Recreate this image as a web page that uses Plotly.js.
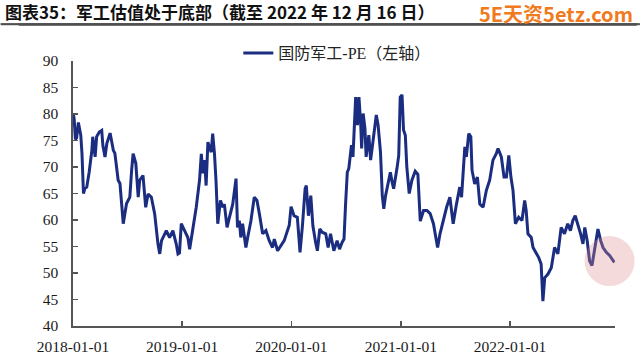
<!DOCTYPE html>
<html>
<head>
<meta charset="utf-8">
<script src="https://cdn.plot.ly/plotly-3.0.1.min.js"></script>
<style>
  html, body { margin: 0; padding: 0; background: #ffffff; }
  #chart { width: 640px; height: 362px; }
</style>
</head>
<body>
<div id="chart"></div>
<script>
// ---- Data ----
const seriesName = "国防军工-PE（左轴）";
const dates = [
"2018-01-02","2018-01-05","2018-01-09","2018-01-13","2018-01-19","2018-01-23","2018-01-27","2018-01-31",
"2018-02-05","2018-02-10","2018-02-16","2018-02-24","2018-03-05","2018-03-08","2018-03-16","2018-03-21",
"2018-03-30","2018-04-07","2018-04-11","2018-04-18","2018-04-24","2018-05-05","2018-05-16","2018-05-21",
"2018-06-01","2018-06-07","2018-06-18","2018-06-29","2018-07-10","2018-07-16","2018-07-21","2018-07-30",
"2018-08-07","2018-08-12","2018-08-23","2018-09-01","2018-09-09","2018-09-20","2018-10-01","2018-10-12",
"2018-10-18","2018-10-24","2018-11-09","2018-11-20","2018-12-01","2018-12-12","2018-12-18","2018-12-23",
"2018-12-29","2019-01-09","2019-01-20","2019-01-26","2019-02-06","2019-02-17","2019-02-28","2019-03-06",
"2019-03-11","2019-03-17","2019-03-22","2019-03-28","2019-04-02","2019-04-08","2019-04-13","2019-04-19",
"2019-04-24","2019-04-30","2019-05-09","2019-05-17","2019-05-22","2019-05-31","2019-06-08","2019-06-19",
"2019-06-30","2019-07-05","2019-07-11","2019-07-16","2019-07-22","2019-08-02","2019-08-08","2019-08-19",
"2019-08-30","2019-09-08","2019-09-16","2019-09-27","2019-10-08","2019-10-19","2019-10-30","2019-11-05",
"2019-11-16","2019-11-27","2019-12-08","2019-12-19","2019-12-25","2019-12-31","2020-01-10","2020-01-21",
"2020-01-30","2020-02-07","2020-02-16","2020-02-20","2020-02-27","2020-03-06","2020-03-13","2020-03-22",
"2020-03-28","2020-04-05","2020-04-13","2020-04-25","2020-05-03","2020-05-11","2020-05-22","2020-06-02",
"2020-06-10","2020-06-19","2020-06-25","2020-06-30","2020-07-06","2020-07-11","2020-07-17","2020-07-20",
"2020-07-25","2020-07-30","2020-08-03","2020-08-09","2020-08-14","2020-08-20","2020-08-23","2020-08-28",
"2020-09-03","2020-09-07","2020-09-16","2020-09-22","2020-09-30","2020-10-06","2020-10-11","2020-10-17",
"2020-10-25","2020-10-31","2020-11-05","2020-11-11","2020-11-19","2020-11-27","2020-12-03","2020-12-08",
"2020-12-19","2020-12-25","2020-12-30","2021-01-05","2021-01-10","2021-01-16","2021-01-21","2021-01-29",
"2021-02-07","2021-02-18","2021-02-27","2021-03-07","2021-03-18","2021-03-29","2021-04-09","2021-04-20",
"2021-04-28","2021-05-04","2021-05-12","2021-05-23","2021-06-03","2021-06-14","2021-06-25","2021-07-06",
"2021-07-17","2021-07-23","2021-07-28","2021-08-03","2021-08-08","2021-08-16","2021-08-23","2021-08-27",
"2021-09-05","2021-09-14","2021-09-22","2021-10-03","2021-10-14","2021-10-25","2021-11-05","2021-11-16",
"2021-11-22","2021-12-03","2021-12-12","2021-12-20","2021-12-28","2022-01-04","2022-01-11","2022-01-19",
"2022-01-30","2022-02-10","2022-02-19","2022-02-24","2022-03-02","2022-03-13","2022-03-19","2022-03-30",
"2022-04-07","2022-04-15","2022-04-21","2022-04-27","2022-05-08","2022-05-19","2022-05-30","2022-06-10",
"2022-06-21","2022-07-02","2022-07-13","2022-07-22","2022-07-30","2022-08-07","2022-08-16","2022-08-25",
"2022-09-02","2022-09-08","2022-09-16","2022-09-24","2022-10-02","2022-10-11","2022-10-22","2022-10-31",
"2022-11-08","2022-11-19","2022-11-30","2022-12-16"
];
const peValues = [
80.1,79.0,75.2,75.5,78.4,77.0,76.0,72.6,
65.0,66.0,66.2,69.0,73.1,75.7,71.9,75.7,
76.6,76.9,74.0,71.9,74.4,76.4,73.1,72.6,
67.5,66.9,59.3,63.1,64.3,69.4,72.5,70.7,
64.3,67.5,68.4,62.4,64.9,64.3,61.2,55.5,
53.6,56.1,58.0,56.7,58.0,55.5,53.6,53.8,
59.3,58.0,56.7,54.5,58.6,62.4,67.5,72.5,
68.8,71.3,66.5,74.7,73.8,72.8,76.3,72.5,
67.5,59.3,63.7,62.4,63.0,58.6,60.5,63.0,
67.8,58.6,59.9,56.7,59.3,54.8,56.7,59.9,
64.3,63.7,61.2,57.4,58.0,56.1,54.8,56.4,
54.2,55.2,56.1,58.0,59.0,62.5,60.8,60.5,
53.9,58.9,65.9,66.5,60.8,64.6,58.9,55.8,
54.2,58.3,57.7,57.4,54.8,57.4,54.2,56.1,
54.5,55.8,56.4,62.7,69.0,69.7,72.2,74.1,
71.9,77.9,83.2,77.9,83.2,77.9,73.5,80.1,
77.3,71.9,76.0,71.3,75.4,77.3,79.8,77.9,
72.8,64.6,62.1,64.6,66.5,69.0,67.1,65.9,
69.7,72.2,83.2,83.6,77.0,76.0,70.0,65.0,
67.5,69.2,68.6,59.8,61.8,61.8,61.2,59.3,
56.7,54.8,57.4,59.9,62.4,64.3,59.3,63.0,
66.2,64.3,69.4,73.8,71.9,76.3,75.7,69.4,
66.8,68.1,63.0,62.4,65.6,67.5,71.3,72.5,
73.5,71.9,68.1,68.1,72.2,68.1,65.6,59.3,
60.5,59.9,63.7,61.8,57.4,56.7,54.8,53.6,
52.9,51.7,44.7,49.1,49.8,51.0,54.8,53.6,
58.6,57.4,59.3,58.0,59.9,60.8,59.3,57.4,
55.5,58.6,56.1,52.3,51.4,54.8,58.3,56.1,
54.8,53.9,53.3,52.0
];
const yTicks = [40, 45, 50, 55, 60, 65, 70, 75, 80, 85, 90];
const xTickDates = ["2018-01-01","2019-01-01","2020-01-01","2021-01-01","2022-01-01"];
const titleText = "图表35：军工估值处于底部（截至 2022 年 12 月 16 日）";
const watermarkText = "5E天资5etz.com";

// ---- Chart ----
const serif = "Liberation Serif, 'Times New Roman', serif";
const ruleColor = "#505050";
const ruleSvg = "data:image/svg+xml;utf8," + encodeURIComponent(
  "<svg xmlns='http://www.w3.org/2000/svg' width='10' height='10'><rect width='10' height='10' fill='" + ruleColor + "'/></svg>");

const trace = {
  type: "scatter",
  mode: "lines",
  x: dates,
  y: peValues,
  name: seriesName,
  line: { color: "#1b2d80", width: 3 },
  showlegend: true
};

const layout = {
  width: 640,
  height: 362,
  margin: { l: 73, r: 25, t: 61, b: 36 },
  title: {
    text: "<b>" + titleText + "</b>",
    font: { family: "Noto Sans CJK SC", size: 17, color: "#111111" },
    x: 5 / 640, xanchor: "left", xref: "container",
    y: 1 - 13 / 362, yanchor: "middle", yref: "container"
  },
  showlegend: true,
  legend: {
    orientation: "h",
    x: 0.305, xanchor: "left",
    y: 1.03, yanchor: "middle",
    bgcolor: "rgba(0,0,0,0)",
    font: { family: serif + ", Noto Sans CJK SC", size: 16, color: "#222222" }
  },
  xaxis: {
    type: "date",
    range: ["2018-01-01", "2022-12-18"],
    tickmode: "array",
    tickvals: xTickDates,
    ticktext: xTickDates,
    ticks: "inside",
    ticklen: 5,
    tickwidth: 1.5,
    tickcolor: "#555555",
    showline: true,
    linecolor: "#555555",
    linewidth: 1.6,
    showgrid: false,
    zeroline: false,
    ticklabelstandoff: 6,
    tickfont: { family: serif, size: 15.5, color: "#1a1a1a" }
  },
  yaxis: {
    range: [40, 90],
    tickmode: "array",
    tickvals: yTicks,
    ticks: "inside",
    ticklen: 5,
    tickwidth: 1.5,
    tickcolor: "#555555",
    showline: true,
    linecolor: "#555555",
    linewidth: 1.6,
    showgrid: false,
    zeroline: false,
    ticklabelstandoff: 10,
    tickfont: { family: serif, size: 15.5, color: "#1a1a1a" }
  },
  images: [
    {
      source: ruleSvg,
      xref: "paper", yref: "paper",
      x: -0.134, y: 1.143,
      sizex: 1.18, sizey: 0.009,
      xanchor: "left", yanchor: "top",
      sizing: "stretch",
      layer: "above"
    }
  ],
  shapes: [
    {
      type: "line", xref: "paper", yref: "paper",
      x0: -0.1, x1: 1.04, y0: 1.138, y1: 1.138,
      line: { color: ruleColor, width: 2.5 }
    },
    {
      type: "circle", xref: "paper", yref: "paper",
      xsizemode: "pixel", ysizemode: "pixel",
      xanchor: 0.99, yanchor: 0.245,
      x0: -25, x1: 25, y0: -25, y1: 25,
      fillcolor: "rgba(222,140,140,0.32)",
      line: { width: 0 }
    }
  ],
  annotations: [
    {
      text: "<b>" + watermarkText + "</b>",
      xref: "paper", yref: "paper",
      x: 1.037, xanchor: "right",
      y: 1.18, yanchor: "middle",
      showarrow: false,
      font: { family: "Noto Sans CJK SC", size: 20, color: "#f07b1e" }
    }
  ]
};

Plotly.newPlot("chart", [trace], layout, { displayModeBar: false, staticPlot: true });
</script>
</body>
</html>
